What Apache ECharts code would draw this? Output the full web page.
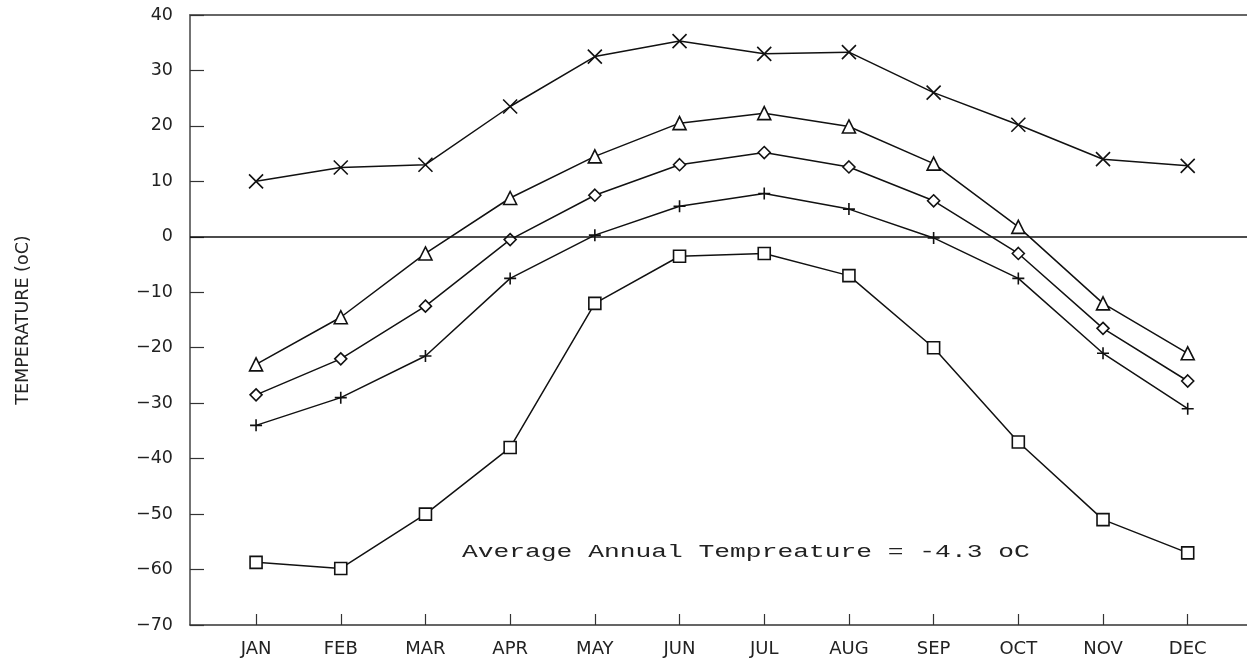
<!DOCTYPE html>
<html>
<head>
<meta charset="utf-8">
<script src="https://cdn.jsdelivr.net/npm/echarts@6/dist/echarts.min.js"></script>
<style>html,body{margin:0;padding:0;background:#fff}#c{width:1247px;height:663px}</style>
</head>
<body>
<div id="c"></div>
<script>
const months = ['JAN','FEB','MAR','APR','MAY','JUN','JUL','AUG','SEP','OCT','NOV','DEC'];
const yTicks = [40,30,20,10,0,-10,-20,-30,-40,-50,-60,-70];
const seriesCross    = [10, 12.5, 13, 23.5, 32.5, 35.3, 33, 33.3, 26, 20.2, 14, 12.8];
const seriesTriangle = [-23, -14.5, -3, 7, 14.5, 20.5, 22.3, 19.9, 13.2, 1.8, -12, -21];
const seriesDiamond  = [-28.5, -22, -12.5, -0.5, 7.5, 13, 15.2, 12.6, 6.5, -3, -16.5, -26];
const seriesPlus     = [-34, -29, -21.5, -7.5, 0.3, 5.5, 7.8, 5, -0.2, -7.5, -21, -31];
const seriesSquare   = [-58.7, -59.8, -50, -38, -12, -3.5, -3, -7, -20, -37, -51, -57];
const yTitle = 'TEMPERATURE (oC)';
const note = 'Average Annual Tempreature = -4.3 oC';

const pts = arr => arr.map((v, i) => [i, v]);
const xPath = 'path://M0,0L10,10M10,0L0,10';
const plusPath = 'path://M5,0L5,10M0,5L10,5';

function mk(name, data, symbol, size, extra) {
  return Object.assign({
    name, type: 'line', data: pts(data), symbol, symbolSize: size,
    showSymbol: true, animation: false,
    lineStyle: { color: '#111', width: 1.5 },
    itemStyle: { color: '#fff', borderColor: '#111', borderWidth: 1.6 },
    emphasis: { disabled: true }
  }, extra || {});
}

const chart = echarts.init(document.getElementById('c'));
chart.setOption({
  backgroundColor: '#fff',
  animation: false,
  grid: { left: 190, right: 0, top: 15, bottom: 38, containLabel: false, outerBoundsMode: 'none' },
  xAxis: [{
    type: 'value', min: -0.78, max: 11.7,
    axisLine: { show: true, onZero: false, lineStyle: { color: '#333', width: 1.5 } },
    axisTick: { show: true, inside: true, length: 11, customValues: months.map((m, i) => i), lineStyle: { color: '#333', width: 1.2 } },
    axisLabel: { customValues: months.map((m, i) => i), formatter: v => months[Math.round(v)], color: '#222', fontSize: 18, fontFamily: 'DejaVu Sans', margin: 15 },
    splitLine: { show: false }
  }, {
    type: 'value', min: -0.78, max: 11.7, position: 'top',
    axisLine: { show: true, onZero: false, lineStyle: { color: '#666', width: 2 } },
    axisTick: { show: false }, axisLabel: { show: false }, splitLine: { show: false }
  }],
  yAxis: {
    type: 'value', min: -70, max: 40, interval: 10,
    name: yTitle, nameLocation: 'middle', nameGap: 158, nameRotate: 90,
    nameTextStyle: { color: '#222', fontSize: 17.5, fontFamily: 'DejaVu Sans' },
    axisLine: { show: true, onZero: false, lineStyle: { color: '#444', width: 1.5 } },
    axisTick: { show: true, inside: true, length: 14, lineStyle: { color: '#333', width: 1.2 } },
    axisLabel: { color: '#222', fontSize: 17.5, fontFamily: 'DejaVu Sans', margin: 17, formatter: v => (v < 0 ? '\u2212' + Math.abs(v) : String(v)) },
    splitLine: { show: false }
  },
  series: [
    mk('cross', seriesCross, xPath, 14, {
      markLine: { silent: true, symbol: 'none', label: { show: false }, animation: false,
        lineStyle: { color: '#111', width: 1.5, type: 'solid' }, data: [{ yAxis: 0 }] }
    }),
    mk('triangle', seriesTriangle, 'triangle', 13),
    mk('diamond', seriesDiamond, 'diamond', 12),
    mk('plus', seriesPlus, plusPath, 12),
    mk('square', seriesSquare, 'rect', 12)
  ],
  graphic: [{
    type: 'text', x: 462, y: 552, scaleX: 1.46, silent: true,
    style: { text: note, fontFamily: 'Liberation Mono', fontSize: 18, fill: '#222', textVerticalAlign: 'middle', verticalAlign: 'middle' }
  }]
});
</script>
</body>
</html>
